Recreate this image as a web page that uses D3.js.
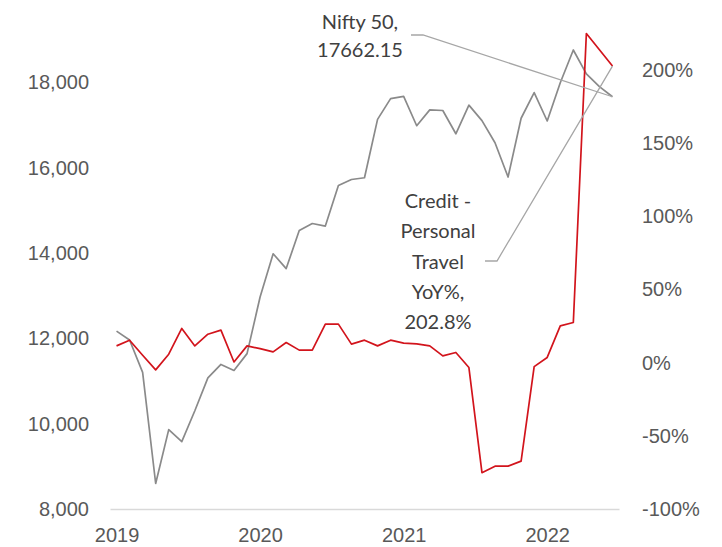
<!DOCTYPE html>
<html>
<head>
<meta charset="utf-8">
<script src="https://cdn.jsdelivr.net/npm/d3@7"></script>
<style>
  html, body { margin: 0; padding: 0; background: #fff; overflow: hidden; }
  svg { display: block; font-family: Lato, "Open Sans", sans-serif; }
</style>
</head>
<body>
<svg id="chart" width="722" height="547"></svg>
<script>
// monthly points, Dec 2019 .. Feb 2023
const months = [
  "2019-12", "2020-01", "2020-02", "2020-03", "2020-04", "2020-05", "2020-06", "2020-07",
  "2020-08", "2020-09", "2020-10", "2020-11", "2020-12", "2021-01", "2021-02", "2021-03",
  "2021-04", "2021-05", "2021-06", "2021-07", "2021-08", "2021-09", "2021-10", "2021-11",
  "2021-12", "2022-01", "2022-02", "2022-03", "2022-04", "2022-05", "2022-06", "2022-07",
  "2022-08", "2022-09", "2022-10", "2022-11", "2022-12", "2023-01", "2023-02"
];

const nifty = [
  12168, 11962, 11202, 8598, 9860, 9580, 10302, 11073,
  11388, 11248, 11642, 12969, 13982, 13635, 14529, 14691,
  14631, 15583, 15722, 15763, 17132, 17618, 17672, 16983,
  17354, 17340, 16794, 17465, 17103, 16585, 15780, 17158,
  17759, 17094, 17990, 18758, 18200, 17900, 17662.15
];

const travelYoY = [
  11.5, 15.4, 5.1, -4.9, 5.8, 23.4, 11.5, 19.5,
  22.3, 0.5, 11.5, 9.6, 7.4, 13.8, 8.6, 8.6,
  26.4, 26.4, 12.7, 15.4, 11.5, 15.4, 13.4, 12.9,
  11.5, 4.7, 7.0, -3.3, -75.2, -70.7, -70.7, -67.3,
  -2.7, 3.6, 25.2, 27.5, 225, 214, 202.8
];

const leftTicks = [8000, 10000, 12000, 14000, 16000, 18000];
const rightTicks = [-100, -50, 0, 50, 100, 150, 200];
const yearTickIdx = [0, 11, 22, 33];

const svg = d3.select("#chart");
const plotLeft = 110, plotRight = 619, plotTop = -3, plotBottom = 509;
const textColor = "#595959";

const x = d3.scalePoint().domain(months).range([plotLeft, plotRight]).padding(0.5);
const yL = d3.scaleLinear().domain([8000, 20000]).range([plotBottom, plotTop]);
const yR = d3.scaleLinear().domain([-100, 250]).range([plotBottom, plotTop]);

// left axis
svg.append("g")
    .attr("transform", `translate(${plotLeft},0)`)
    .call(d3.axisLeft(yL).tickValues(leftTicks).tickFormat(d3.format(",")).tickSize(0).tickPadding(21))
    .call(g => g.select(".domain").remove())
    .call(g => g.selectAll("text").attr("font-size", 20).attr("font-family", null).attr("fill", textColor));

// right axis
svg.append("g")
    .attr("transform", `translate(${plotRight},0)`)
    .call(d3.axisRight(yR).tickValues(rightTicks).tickFormat(d => d + "%").tickSize(0).tickPadding(23))
    .call(g => g.select(".domain").remove())
    .call(g => g.selectAll("text").attr("font-size", 20).attr("font-family", null).attr("fill", textColor));

// bottom axis
svg.append("g")
    .attr("transform", `translate(0,${plotBottom})`)
    .call(d3.axisBottom(x).tickValues(yearTickIdx.map(i => months[i])).tickFormat(d => d.slice(0, 4)).tickSize(0).tickSizeOuter(0).tickPadding(19))
    .call(g => g.select(".domain").attr("stroke", "#d9d9d9").attr("stroke-width", 1.3))
    .call(g => g.selectAll("text").attr("font-size", 20).attr("font-family", null).attr("fill", textColor));

const niftyLine = d3.line().x((d, i) => x(months[i])).y(d => yL(d));
const travelLine = d3.line().x((d, i) => x(months[i])).y(d => yR(d));

svg.append("path")
    .datum(nifty)
    .attr("d", niftyLine)
    .attr("fill", "none")
    .attr("stroke", "#8a8a8a")
    .attr("stroke-width", 1.7)
    .attr("stroke-linejoin", "round");

svg.append("path")
    .datum(travelYoY)
    .attr("d", travelLine)
    .attr("fill", "none")
    .attr("stroke", "#d2141c")
    .attr("stroke-width", 1.7)
    .attr("stroke-linejoin", "round");

// data labels with leader lines
const last = months.length - 1;
const lx = x(months[last]);

function leader(x0, y0, tx, ty) {
    svg.append("polyline")
        .attr("points", [[x0, y0], [x0 + 12, y0], [tx, ty]].map(p => p.join(",")).join(" "))
        .attr("fill", "none")
        .attr("stroke", "#a6a6a6")
        .attr("stroke-width", 1.3);
}

leader(411, 35, lx, yL(nifty[last]));
leader(485, 261, lx, yR(travelYoY[last]));

function label(cx, cy, lines, gap) {
    const t = svg.append("text")
        .attr("text-anchor", "middle")
        .attr("font-size", 20)
        .attr("fill", "#404040");
    lines.forEach((s, i) => {
        t.append("tspan").attr("x", cx).attr("y", cy + i * gap).attr("dy", "0.35em").text(s);
    });
}

label(360, 22, ["Nifty 50,", d3.format(".2f")(nifty[last])], 28);
label(438, 201, ["Credit -", "Personal", "Travel", "YoY%,", travelYoY[last] + "%"], 30.3);
</script>
</body>
</html>
